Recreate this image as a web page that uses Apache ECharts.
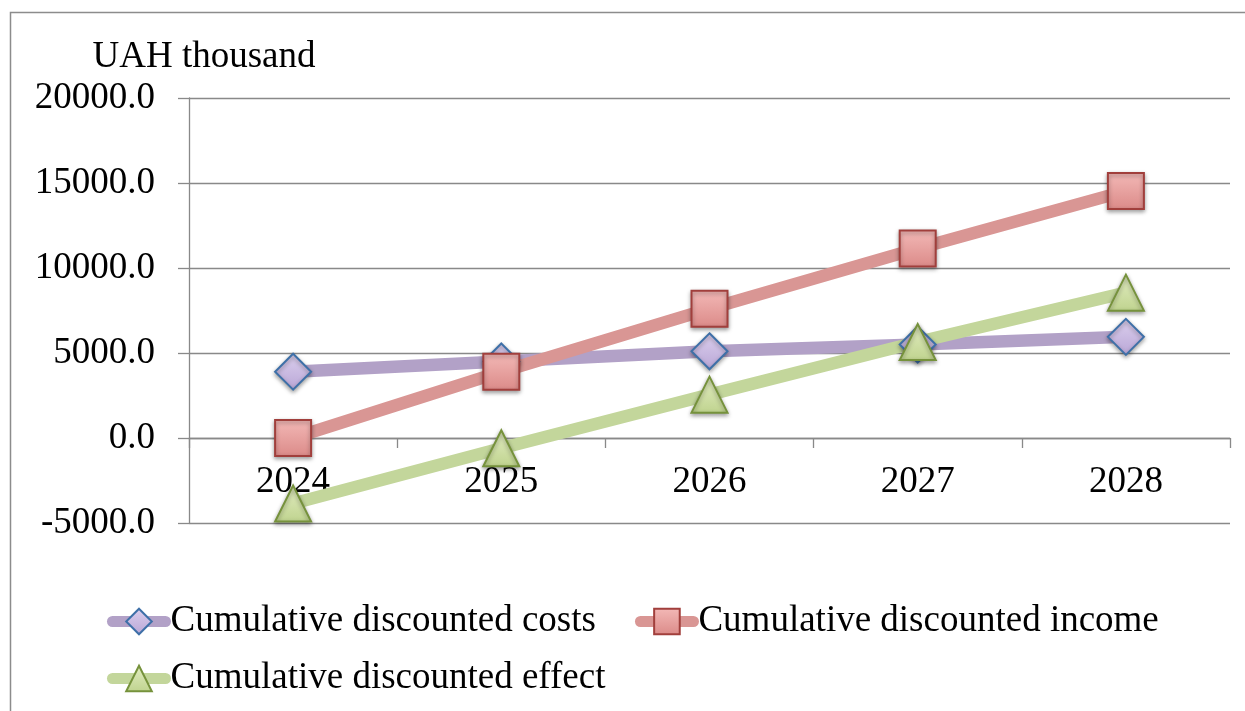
<!DOCTYPE html>
<html>
<head>
<meta charset="utf-8">
<script src="https://cdn.jsdelivr.net/npm/echarts@6/dist/echarts.min.js"></script>
<style>
  html, body { margin: 0; padding: 0; background: #fff; }
  #chart { width: 1245px; height: 711px; }
</style>
</head>
<body>
<div id="chart"></div>
<script>
// Years on the category axis
const years = ['2024', '2025', '2026', '2027', '2028'];

// Cumulative values, UAH thousand
const discountedCosts = [3900, 4500, 5100, 5500, 5950];
const discountedIncome = [0, 3900, 7600, 11150, 14530];
const discountedEffect = [-3850, -600, 2550, 5650, 8550];

// Value axis ticks
const yTicks = [-5000, 0, 5000, 10000, 15000, 20000];

const seriesNames = [
  'Cumulative discounted costs',
  'Cumulative discounted income',
  'Cumulative discounted effect'
];

const FONT = '"Liberation Serif", "Times New Roman", serif';
const FONT_SIZE = 37;
const GRID_GREY = '#898989';

// Plot box inside the canvas
const CANVAS_H = 711;
const GRID = { left: 189, right: 15, top: 98, bottom: 188 };
const yMin = yTicks[0];
const yMax = yTicks[yTicks.length - 1];
// The category axis (line, ticks and year labels) sits on the zero value line
const plotHeight = CANVAS_H - GRID.top - GRID.bottom;
const zeroOffset = -plotHeight * (0 - yMin) / (yMax - yMin);

function vGrad(top, bottom) {
  return new echarts.graphic.LinearGradient(0, 0, 0, 1, [
    { offset: 0, color: top },
    { offset: 1, color: bottom }
  ]);
}

const markerShadow = {
  shadowColor: 'rgba(0,0,0,0.35)',
  shadowBlur: 4,
  shadowOffsetY: 2
};

function lineSeries(name, data, lineColor, symbol, fill, border) {
  return {
    name: name,
    type: 'line',
    data: data,
    symbol: symbol,
    symbolSize: 36,
    showAllSymbol: true,
    lineStyle: { color: lineColor, width: 12.5, cap: 'round', join: 'round' },
    itemStyle: Object.assign({ color: fill, borderColor: border, borderWidth: 2 }, markerShadow),
    emphasis: { disabled: true }
  };
}

const legendText = { fontFamily: FONT, fontSize: FONT_SIZE, color: '#000', lineHeight: 36 };
const legendCommon = {
  left: 107,
  padding: 0,
  itemWidth: 53,
  itemHeight: 32,
  itemGap: 39,
  textStyle: legendText,
  lineStyle: { width: 11, cap: 'round' },
  selectedMode: false
};

const chart = echarts.init(document.getElementById('chart'), null, { renderer: 'canvas' });

chart.setOption({
  animation: false,
  backgroundColor: '#fff',
  graphic: [{
    type: 'rect',
    shape: { x: 10.5, y: 12.5, width: 1260, height: 730 },
    style: { fill: 'none', stroke: '#8c8c8c', lineWidth: 1.5 },
    silent: true,
    z: -1
  }],
  grid: GRID,
  legend: [
    Object.assign({ data: [seriesNames[0], seriesNames[1]], top: 603 }, legendCommon),
    Object.assign({ data: [seriesNames[2]], top: 660 }, legendCommon)
  ],
  xAxis: {
    type: 'category',
    data: years,
    boundaryGap: true,
    offset: zeroOffset,
    axisLine: { show: true, onZero: false, lineStyle: { color: GRID_GREY, width: 1.3 } },
    axisTick: { show: true, length: 10, lineStyle: { color: GRID_GREY, width: 1.3 } },
    axisLabel: { margin: 26, fontFamily: FONT, fontSize: FONT_SIZE, color: '#000' },
    splitLine: { show: false }
  },
  yAxis: {
    type: 'value',
    min: yMin,
    max: yMax,
    interval: yTicks[1] - yTicks[0],
    name: 'UAH thousand',
    nameLocation: 'end',
    nameGap: 22,
    nameTextStyle: { fontFamily: FONT, fontSize: FONT_SIZE, color: '#000', align: 'center', padding: [0, 0, 0, 30] },
    axisLine: { show: true, lineStyle: { color: GRID_GREY, width: 1.3 } },
    axisTick: { show: true, length: 11, lineStyle: { color: GRID_GREY, width: 1.3 } },
    axisLabel: {
      margin: 34,
      fontFamily: FONT,
      fontSize: FONT_SIZE,
      color: '#000',
      formatter: v => v.toFixed(1)
    },
    splitLine: { show: true, lineStyle: { color: GRID_GREY, width: 1.3 } }
  },
  series: [
    lineSeries(seriesNames[0], discountedCosts, '#B2A1C7', 'diamond',
      vGrad('#DCD0EE', '#B9A6D6'), '#3E70A8'),
    lineSeries(seriesNames[1], discountedIncome, '#D99694', 'rect',
      vGrad('#F3B9B7', '#DB8A88'), '#A13F3C'),
    lineSeries(seriesNames[2], discountedEffect, '#C3D69B', 'triangle',
      vGrad('#E3EDC3', '#BFD38E'), '#76923C')
  ]
});
</script>
</body>
</html>
